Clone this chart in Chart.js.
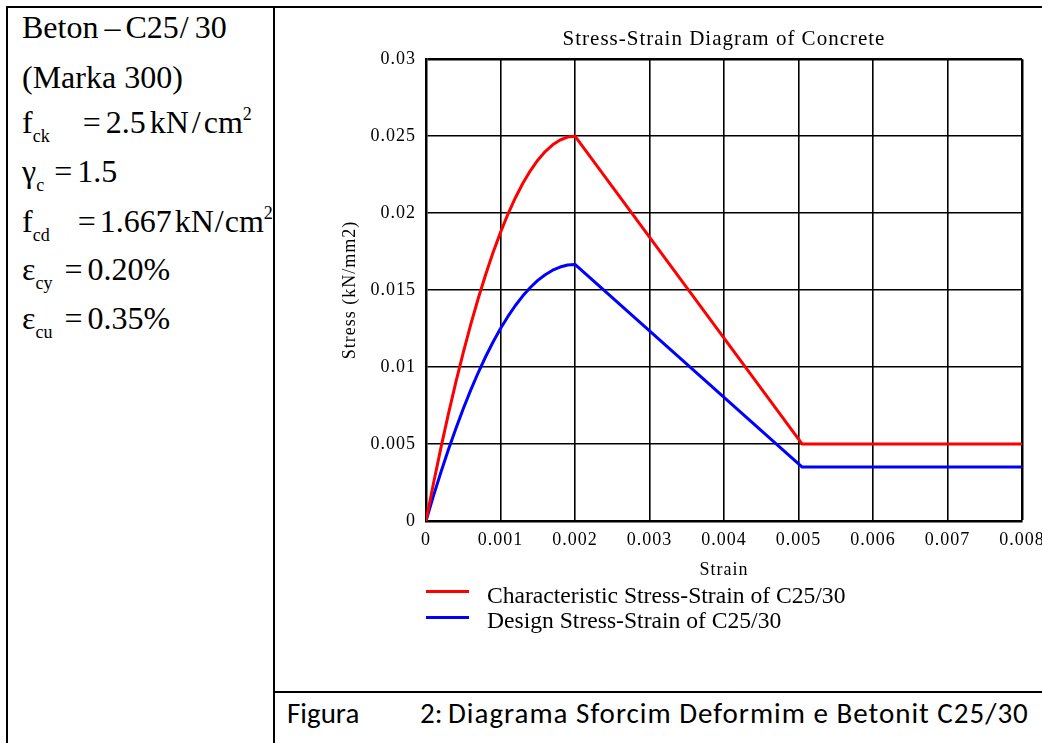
<!DOCTYPE html>
<html>
<head>
<meta charset="utf-8">
<title>Stress-Strain Diagram of Concrete</title>
<script src="https://cdn.jsdelivr.net/npm/chart.js@4.4.1/dist/chart.umd.min.js"></script>
<style>
  html, body { margin: 0; padding: 0; background: #fff; overflow: hidden; width: 1042px; height: 743px; }
  .rule { position: absolute; background: #000; }
  .ln { position: absolute; left: 22px; font-family: 'Liberation Serif', 'Times New Roman', serif;
        font-size: 32px; line-height: 32px; white-space: nowrap; color: #000; }
  .ln sub { font-size: 18px; vertical-align: -9px; line-height: 0; }
  .ln sup { font-size: 18px; vertical-align: 13px; line-height: 0; }
  #chartBox { position: absolute; left: 300px; top: 9px; width: 780px; height: 580px; }
  .swatch { position: absolute; left: 426px; width: 43px; height: 3px; }
  .legText { position: absolute; left: 487px; font-family: 'Liberation Serif', serif; font-size: 23.6px;
             line-height: 23px; white-space: nowrap; color: #000; }
  .cap { position: absolute; top: 698px; font-family: Carlito, Lato, sans-serif; font-size: 29px;
         line-height: 30px; white-space: nowrap; color: #000; }
</style>
</head>
<body>
  <!-- table borders -->
  <div class="rule" style="left:6px; top:6px; width:1036px; height:2px;"></div>
  <div class="rule" style="left:6px; top:6px; width:2px; height:737px;"></div>
  <div class="rule" style="left:273px; top:6px; width:2px; height:737px;"></div>
  <div class="rule" style="left:273px; top:691px; width:769px; height:2px;"></div>

  <!-- left cell: material data -->
  <div class="ln" style="top:11px;">Beton<span style="margin:0 5px 0 6px">–</span>C25<span style="margin:0 6px 0 1px">/</span>30</div>
  <div class="ln" style="top:61px;">(Marka 300)</div>
  <div class="ln" style="top:106px;">f<sub>ck</sub><span style="margin:0 5px 0 33px">=</span>2.5<span style="margin-left:4px">kN</span><span style="margin:0 3px">/</span>cm<sup>2</sup></div>
  <div class="ln" style="top:155px;">γ<sub>c</sub><span style="margin:0 5px 0 10px">=</span>1.5</div>
  <div class="ln" style="top:205px;">f<sub>cd</sub><span style="margin:0 4px 0 28px">=</span>1.667<span style="margin-left:3px">kN</span><span style="margin:0 1px">/</span>cm<sup>2</sup></div>
  <div class="ln" style="top:253px;">ε<sub>cy</sub><span style="margin:0 5px 0 12px">=</span>0.20%</div>
  <div class="ln" style="top:302px;">ε<sub>cu</sub><span style="margin:0 5px 0 12px">=</span>0.35%</div>

  <!-- right cell: chart -->
  <div id="chartBox"><canvas id="stressChart" width="780" height="580"></canvas></div>

  <div class="swatch" style="top:590px; background:#ff0000;"></div>
  <div class="legText" style="top:584px;">Characteristic Stress-Strain of C25/30</div>
  <div class="swatch" style="top:616px; background:#0000ff;"></div>
  <div class="legText" style="top:609px;">Design Stress-Strain of C25/30</div>

  <!-- caption row -->
  <div class="cap" style="left:287px;">Figura</div>
  <div class="cap" style="left:420px;">2:</div>
  <div class="cap" style="left:448px; letter-spacing:1px;">Diagrama Sforcim Deformim e Betonit C25/30</div>

<script>
// data
const strain = [0, 0.0001, 0.0002, 0.0003, 0.0004, 0.0005, 0.0006, 0.0007, 0.0008, 0.0009,
                0.001, 0.0011, 0.0012, 0.0013, 0.0014, 0.0015, 0.0016, 0.0017, 0.0018, 0.0019,
                0.002, 0.00505, 0.008];
const characteristicStress = [0, 0.00244, 0.00475, 0.00694, 0.00900, 0.01094, 0.01275, 0.01444, 0.01600, 0.01744,
                              0.01875, 0.01994, 0.02100, 0.02194, 0.02275, 0.02344, 0.02400, 0.02444, 0.02475, 0.02494,
                              0.02500, 0.00500, 0.00500];
const designStress = [0, 0.00163, 0.00317, 0.00463, 0.00600, 0.00729, 0.00850, 0.00963, 0.01067, 0.01163,
                      0.01250, 0.01329, 0.01400, 0.01463, 0.01517, 0.01563, 0.01600, 0.01629, 0.01650, 0.01663,
                      0.01667, 0.00350, 0.00350];
const xTickLabels = ['0', '0.001', '0.002', '0.003', '0.004', '0.005', '0.006', '0.007', '0.008'];
const yTickLabels = ['0', '0.005', '0.01', '0.015', '0.02', '0.025', '0.03'];

const toPoints = (ys) => strain.map((x, i) => ({ x: x, y: ys[i] }));

const serif = "'Liberation Serif', 'Times New Roman', serif";
Chart.defaults.font.family = serif;
Chart.defaults.color = '#000';

// Mathcad-like spaced lettering for the chart text
const spacing = {
  id: 'spacing',
  beforeDraw(chart) { chart.ctx.letterSpacing = '1px'; }
};

const edgeWidth = (max) => (ctx) => (ctx.tick && Math.abs(ctx.tick.value - max) < 1e-9 ? 2.5 : 1.6);

const lineStyle = {
  showLine: true,
  borderWidth: 3,
  pointRadius: 0,
  tension: 0,
  borderJoinStyle: 'round',
  borderCapStyle: 'round'
};

new Chart(document.getElementById('stressChart'), {
  type: 'scatter',
  data: {
    datasets: [
      Object.assign({
        label: 'Characteristic Stress-Strain of C25/30',
        data: toPoints(characteristicStress),
        borderColor: '#ff0000'
      }, lineStyle),
      Object.assign({
        label: 'Design Stress-Strain of C25/30',
        data: toPoints(designStress),
        borderColor: '#0000ff'
      }, lineStyle)
    ]
  },
  options: {
    responsive: false,
    animation: false,
    layout: { padding: { left: 0, right: 58, top: 0, bottom: 0 } },
    plugins: {
      legend: { display: false },
      tooltip: { enabled: false },
      title: {
        display: true,
        text: 'Stress-Strain Diagram of Concrete',
        fullSize: false,
        color: '#000',
        font: { family: serif, size: 21, weight: 'normal' },
        padding: { top: 18, bottom: 7 }
      }
    },
    scales: {
      x: {
        type: 'linear',
        min: 0,
        max: 0.008,
        afterFit(scale) { scale.height = 68; },
        ticks: {
          stepSize: 0.001,
          padding: 8,
          maxRotation: 0,
          font: { size: 18 },
          callback: (v, i) => xTickLabels[i]
        },
        grid: { color: '#000', lineWidth: edgeWidth(0.008), drawTicks: false },
        border: { color: '#000', width: 2.5 },
        title: { display: true, text: 'Strain', font: { size: 18 }, padding: { top: 0, bottom: 8 } }
      },
      y: {
        type: 'linear',
        min: 0,
        max: 0.03,
        afterFit(scale) { scale.width = 126; },
        ticks: {
          stepSize: 0.005,
          padding: 10,
          font: { size: 18 },
          callback: (v, i) => yTickLabels[i]
        },
        grid: { color: '#000', lineWidth: edgeWidth(0.03), drawTicks: false },
        border: { color: '#000', width: 2.5 },
        title: { display: true, text: 'Stress (kN/mm2)', font: { size: 18 }, padding: { top: 39, bottom: 0 } }
      }
    }
  },
  plugins: [spacing]
});
</script>
</body>
</html>
